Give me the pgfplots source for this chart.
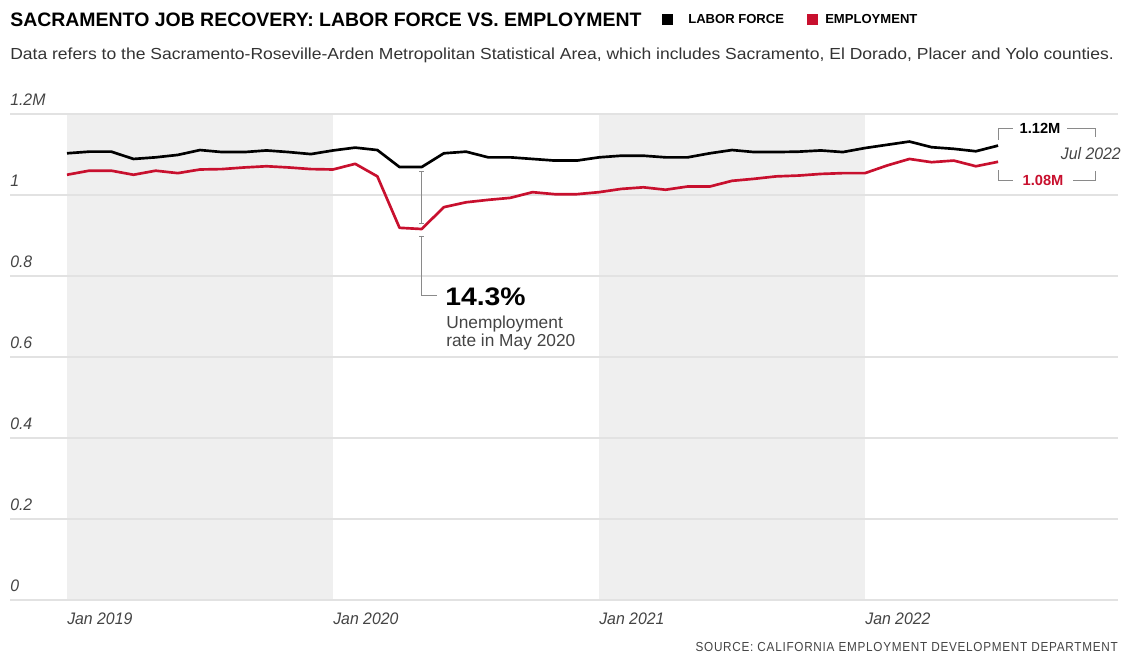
\documentclass[border=0pt]{standalone}
\usepackage{pgfplots}
\pgfplotsset{compat=1.18}
\usepackage{pgfplotstable}
\usepackage{fontspec}
\setmainfont{Liberation Sans}
\newfontfamily\cond[FakeStretch=0.95]{Liberation Sans}
\newfontfamily\wide[FakeStretch=1.094]{Liberation Sans}
\newfontfamily\bigbold[FakeStretch=1.12]{Liberation Sans}
\newfontfamily\srcfont[FakeStretch=0.9,LetterSpace=5.5]{Liberation Sans}

\definecolor{empred}{HTML}{C8102E}
\definecolor{bandc}{HTML}{EFEFEF}
\definecolor{gridc}{HTML}{E2E2E2}
\definecolor{subc}{HTML}{333333}
\definecolor{tickc}{HTML}{444444}
\definecolor{annc}{HTML}{8A8A8A}

% month index (0 = Jan 2019), labor force and employment in millions
\pgfplotstableread{
m lf emp
0 1.103 1.050
1 1.107 1.060
2 1.107 1.060
3 1.089 1.050
4 1.093 1.060
5 1.099 1.054
6 1.111 1.063
7 1.106 1.064
8 1.106 1.068
9 1.110 1.071
10 1.106 1.068
11 1.101 1.064
12 1.110 1.063
13 1.117 1.077
14 1.111 1.046
15 1.069 0.919
16 1.069 0.916
17 1.103 0.970
18 1.107 0.982
19 1.093 0.988
20 1.093 0.993
21 1.089 1.007
22 1.085 1.002
23 1.085 1.002
24 1.093 1.007
25 1.097 1.015
26 1.097 1.019
27 1.093 1.013
28 1.093 1.021
29 1.103 1.021
30 1.111 1.035
31 1.106 1.040
32 1.106 1.046
33 1.107 1.048
34 1.110 1.052
35 1.106 1.054
36 1.116 1.054
37 1.124 1.073
38 1.132 1.089
39 1.118 1.081
40 1.114 1.085
41 1.108 1.071
42 1.122 1.082
}\jobdata

\begin{document}
\begin{tikzpicture}[x=0.75pt,y=-0.75pt]

\begin{axis}[
  at={(7.5pt,-450pt)}, anchor=south west,
  scale only axis, width=831pt, height=364.5pt,
  xmin=-2.571, xmax=47.41, ymin=0, ymax=1.2,
  axis line style={draw=none},
  major tick length=0pt,
  xtick={0,12,24,36},
  xticklabels={Jan 2019,Jan 2020,Jan 2021,Jan 2022},
  ytick={0,0.2,0.4,0.6,0.8,1,1.2},
  yticklabels={0,0.2,0.4,0.6,0.8,1,1.2M},
  ymajorgrids,
  major grid style={gridc, line width=0.8pt},
  yticklabel style={anchor=south west, inner sep=0pt, yshift=6pt,
    text=tickc, font=\cond\itshape\fontsize{12.5pt}{14pt}\selectfont},
  xticklabel style={anchor=north west, inner sep=0pt, yshift=-9.5pt,
    text=tickc, font=\cond\itshape\fontsize{12.5pt}{14pt}\selectfont},
  set layers, clip=false,
]
\begin{pgfonlayer}{axis background}
\fill[bandc] (axis cs:0,0) rectangle (axis cs:12,1.2);
\fill[bandc] (axis cs:24,0) rectangle (axis cs:36,1.2);
\end{pgfonlayer}

\addplot[black, line width=2pt, line join=round] table[x=m, y=lf] {\jobdata};
\addplot[empred, line width=2pt, line join=round] table[x=m, y=emp] {\jobdata};

% May 2020 gap marker
\draw[annc, line width=0.6pt] (axis cs:16,1.058) -- (axis cs:16,0.931);
\draw[annc, line width=0.6pt] (axis cs:15.9,1.058) -- (axis cs:16.1,1.058);
\draw[annc, line width=0.6pt] (axis cs:15.9,0.931) -- (axis cs:16.1,0.931);
\draw[annc, line width=0.6pt] (axis cs:15.9,0.899) -- (axis cs:16.1,0.899);
\draw[annc, line width=0.6pt] (axis cs:16,0.899) -- (axis cs:16,0.753) -- (axis cs:16.68,0.753);
\end{axis}

% title and legend
\node[anchor=base west, inner sep=0pt] at (10,27)
  {\fontsize{14.6pt}{16pt}\selectfont\bfseries SACRAMENTO JOB RECOVERY: LABOR FORCE VS. EMPLOYMENT};
\fill[black] (662,14) rectangle (673,25);
\node[anchor=base west, inner sep=0pt] at (688,24)
  {\fontsize{9.8pt}{11pt}\selectfont\bfseries LABOR FORCE};
\fill[empred] (807,14) rectangle (818,25);
\node[anchor=base west, inner sep=0pt] at (825,24)
  {\fontsize{9.8pt}{11pt}\selectfont\bfseries EMPLOYMENT};

\node[anchor=base west, inner sep=0pt, text=subc] at (10,60)
  {\wide\fontsize{12pt}{14pt}\selectfont Data refers to the Sacramento-Roseville-Arden Metropolitan Statistical Area, which includes Sacramento, El Dorado, Placer and Yolo counties.};

% May 2020 annotation text
\node[anchor=base west, inner sep=0pt] at (445,305)
  {\bigbold\fontsize{19pt}{21pt}\selectfont\bfseries 14.3\%};
\node[anchor=base west, inner sep=0pt, text=tickc] at (446,328)
  {\fontsize{13pt}{15pt}\selectfont Unemployment};
\node[anchor=base west, inner sep=0pt, text=tickc] at (446,346)
  {\fontsize{13pt}{15pt}\selectfont rate in May 2020};

% Jul 2022 end labels
\draw[annc, line width=0.6pt] (998,140) -- (998,128) -- (1013,128);
\draw[annc, line width=0.6pt] (1067,128) -- (1095,128) -- (1095,137);
\draw[annc, line width=0.6pt] (998,170) -- (998,180) -- (1013,180);
\draw[annc, line width=0.6pt] (1073,180) -- (1095,180) -- (1095,171);
\node[anchor=center, inner sep=0pt] at (1040,128)
  {\fontsize{11pt}{13pt}\selectfont\bfseries 1.12M};
\node[anchor=center, inner sep=0pt, text=empred] at (1043,180)
  {\fontsize{11pt}{13pt}\selectfont\bfseries 1.08M};
\node[anchor=east, inner sep=0pt, text=tickc] at (1121,154)
  {\cond\itshape\fontsize{12.5pt}{14pt}\selectfont Jul 2022};

% source
\node[anchor=base east, inner sep=0pt, text=tickc] at (1118,651)
  {\srcfont\fontsize{9.8pt}{12pt}\selectfont SOURCE: CALIFORNIA EMPLOYMENT DEVELOPMENT DEPARTMENT};

\path (0,0) rectangle (1123,656);
\end{tikzpicture}
\end{document}
